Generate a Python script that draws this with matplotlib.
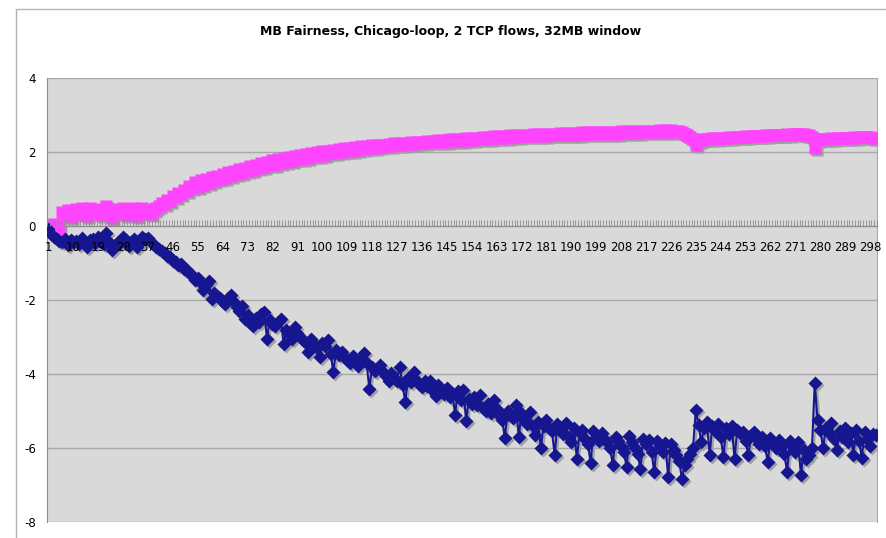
import numpy as np
import matplotlib.pyplot as plt
from matplotlib.patches import Rectangle
from matplotlib.transforms import offset_copy

title = 'MB Fairness, Chicago-loop, 2 TCP flows, 32MB window'

# flow 1 (magenta squares), one value per sample
flow_a = [
    0.02, 0.03, 0.05, 0.00, -0.08, 0.38, 0.30, 0.42, 0.25, 0.40,
    0.45, 0.32, 0.48, 0.40, 0.28, 0.50, 0.42, 0.36, 0.45, 0.30,
    0.38, 0.55, 0.40, 0.22, 0.35, 0.45, 0.38, 0.48, 0.30, 0.36,
    0.45, 0.50, 0.28, 0.35, 0.48, 0.40, 0.46, 0.32, 0.42, 0.50,
    0.55, 0.62, 0.60, 0.70, 0.68, 0.80, 0.78, 0.88, 0.86, 0.98,
    0.95, 1.08, 1.02, 1.18, 1.06, 1.25, 1.12, 1.28, 1.16, 1.32,
    1.22, 1.36, 1.26, 1.40, 1.30, 1.46, 1.34, 1.50, 1.40, 1.55,
    1.44, 1.58, 1.48, 1.62, 1.52, 1.66, 1.56, 1.70, 1.60, 1.74,
    1.64, 1.78, 1.66, 1.80, 1.70, 1.84, 1.72, 1.86, 1.76, 1.90,
    1.80, 1.92, 1.82, 1.95, 1.85, 1.97, 1.88, 2.00, 1.90, 2.02,
    1.93, 2.04, 1.96, 2.06, 1.98, 2.08, 2.00, 2.10, 2.02, 2.12,
    2.04, 2.13, 2.06, 2.15, 2.08, 2.16, 2.10, 2.18, 2.12, 2.19,
    2.14, 2.20, 2.15, 2.22, 2.17, 2.23, 2.18, 2.24, 2.20, 2.25,
    2.21, 2.26, 2.22, 2.27, 2.24, 2.28, 2.25, 2.29, 2.26, 2.30,
    2.26, 2.32, 2.27, 2.33, 2.28, 2.34, 2.29, 2.35, 2.30, 2.36,
    2.31, 2.37, 2.32, 2.38, 2.33, 2.39, 2.34, 2.40, 2.35, 2.41,
    2.36, 2.42, 2.37, 2.43, 2.38, 2.44, 2.39, 2.45, 2.40, 2.46,
    2.41, 2.46, 2.42, 2.47, 2.42, 2.48, 2.43, 2.48, 2.44, 2.49,
    2.44, 2.50, 2.45, 2.50, 2.45, 2.51, 2.46, 2.51, 2.46, 2.52,
    2.47, 2.52, 2.47, 2.53, 2.48, 2.53, 2.48, 2.54, 2.49, 2.54,
    2.49, 2.55, 2.49, 2.55, 2.50, 2.55, 2.50, 2.56, 2.51, 2.56,
    2.51, 2.56, 2.52, 2.57, 2.52, 2.57, 2.53, 2.58, 2.53, 2.58,
    2.54, 2.59, 2.54, 2.59, 2.55, 2.60, 2.55, 2.58, 2.56, 2.54,
    2.50, 2.46, 2.40, 2.34, 2.20, 2.30, 2.32, 2.34, 2.36, 2.35,
    2.37, 2.38, 2.36, 2.38, 2.39, 2.38, 2.40, 2.39, 2.40, 2.41,
    2.40, 2.41, 2.42, 2.41, 2.42, 2.43, 2.42, 2.44, 2.43, 2.45,
    2.44, 2.45, 2.46, 2.45, 2.46, 2.47, 2.46, 2.48, 2.47, 2.48,
    2.49, 2.48, 2.49, 2.48, 2.47, 2.46, 2.40, 2.10, 2.32, 2.34,
    2.35, 2.34, 2.36, 2.37, 2.36, 2.38, 2.37, 2.38, 2.39, 2.38,
    2.39, 2.40, 2.39, 2.40, 2.41, 2.40, 2.41, 2.40, 2.39, 2.38,
]

# flow 2 (navy diamonds)
flow_b = [
    -0.08, -0.22, -0.30, -0.36, -0.40, -0.42, -0.35, -0.52, -0.38, -0.44,
    -0.40, -0.48, -0.32, -0.42, -0.56, -0.38, -0.35, -0.46, -0.30, -0.42,
    -0.48, -0.20, -0.42, -0.66, -0.52, -0.42, -0.46, -0.30, -0.38, -0.54,
    -0.42, -0.35, -0.56, -0.44, -0.30, -0.36, -0.32, -0.44, -0.52, -0.58,
    -0.62, -0.68, -0.74, -0.80, -0.84, -0.95, -0.98, -1.05, -1.02, -1.15,
    -1.20, -1.26, -1.32, -1.45, -1.40, -1.55, -1.72, -1.60, -1.48, -1.98,
    -1.80, -1.88, -1.95, -2.05, -2.12, -1.95, -1.86, -2.05, -2.18, -2.30,
    -2.15, -2.50, -2.40, -2.62, -2.70, -2.48, -2.60, -2.38, -2.32, -3.05,
    -2.55, -2.65, -2.70, -2.60, -2.52, -3.18, -2.82, -2.92, -3.05, -2.72,
    -2.90, -3.00, -3.08, -3.15, -3.40, -3.05, -3.20, -3.30, -3.55, -3.15,
    -3.25, -3.08, -3.45, -3.95, -3.35, -3.48, -3.40, -3.55, -3.62, -3.70,
    -3.52, -3.65, -3.78, -3.60, -3.43, -3.70, -4.40, -3.80, -3.92, -3.85,
    -3.76, -3.95, -4.05, -4.18, -3.98, -4.10, -4.20, -3.80, -4.30, -4.75,
    -4.10, -4.22, -3.95, -4.15, -4.28, -4.35, -4.20, -4.32, -4.20, -4.45,
    -4.60, -4.30, -4.48, -4.55, -4.38, -4.62, -4.52, -5.10, -4.45, -4.70,
    -4.42, -5.28, -4.68, -4.80, -4.62, -4.85, -4.57, -4.92, -5.00, -4.80,
    -5.05, -4.70, -4.95, -5.10, -5.25, -5.72, -5.00, -5.12, -5.20, -4.84,
    -5.70, -5.05, -5.25, -5.35, -5.03, -5.40, -5.65, -5.30, -6.00, -5.40,
    -5.25, -5.45, -5.55, -6.18, -5.35, -5.50, -5.62, -5.32, -5.70, -5.85,
    -5.45, -6.30, -5.60, -5.52, -5.75, -5.90, -6.40, -5.55, -5.70, -5.82,
    -5.60, -5.75, -5.85, -6.00, -6.45, -5.70, -5.80, -5.95, -6.10, -6.52,
    -5.68, -5.85, -6.00, -6.15, -6.58, -5.75, -5.90, -5.78, -6.10, -6.66,
    -5.82, -5.95, -6.10, -5.86, -6.78, -5.90, -6.05, -6.20, -6.35, -6.84,
    -6.45, -6.30, -6.15, -6.00, -4.98, -5.38, -5.85, -5.45, -5.30, -6.18,
    -5.40, -5.55, -5.35, -5.70, -6.25, -5.45, -5.62, -5.40, -6.30, -5.50,
    -5.60, -5.57, -5.80, -6.20, -5.65, -5.58, -5.75, -5.90, -5.70, -5.95,
    -6.38, -5.72, -5.85, -6.00, -5.78, -5.95, -6.15, -6.65, -5.80, -5.98,
    -6.10, -5.85, -6.72, -6.05, -6.30, -6.19, -6.00, -4.24, -5.24, -5.50,
    -6.00, -5.45, -5.60, -5.32, -5.75, -6.05, -5.55, -5.70, -5.46, -5.85,
    -5.60, -6.19, -5.50, -5.80, -6.27, -5.57, -5.75, -5.95, -5.62, -5.65,
]

samples = np.arange(1, len(flow_a) + 1)
tick_pos = samples[::9]
y_ticks = [-8, -6, -4, -2, 0, 2, 4]

fig = plt.figure(figsize=(8.87, 5.38), dpi=100)
fig.patch.set_facecolor('white')
ax = fig.add_axes([47 / 887, 16 / 538, 830 / 887, 444 / 538])
ax.set_facecolor('#d9d9d9')

# gray drop shadows under the markers
shadow = offset_copy(ax.transData, fig=fig, x=2, y=-2, units='dots')
ax.plot(samples, flow_a, color='#a0a0a0', lw=1.5, marker='s', ms=8.5,
        mec='none', transform=shadow, zorder=2)
ax.plot(samples, flow_b, color='#a0a0a0', lw=1.5, marker='D', ms=7,
        mec='none', transform=shadow, zorder=2)

ax.plot(samples, flow_a, color='#ff44ff', lw=1.5, marker='s', ms=8.5,
        mec='none', zorder=3)
ax.plot(samples, flow_b, color='#161690', lw=1.5, marker='D', ms=7,
        mec='none', zorder=4)

ax.set_xlim(0.5, len(samples) + 0.5)
ax.set_ylim(-8, 4)
ax.set_yticks(y_ticks)
ax.set_yticklabels([str(v) for v in y_ticks])
ax.yaxis.grid(True, color='#a8a8a8', lw=1)
ax.set_axisbelow(True)
# sample numbers sit on top of the series
ax.xaxis.set_zorder(5)

# category axis crosses at zero
ax.spines['bottom'].set_position(('data', 0))
ax.spines['bottom'].set_color('#8c8c8c')
ax.spines['left'].set_color('#8c8c8c')
ax.spines['top'].set_visible(False)
ax.spines['right'].set_color('#a8a8a8')
ax.set_xticks(tick_pos)
ax.set_xticklabels([str(v) for v in tick_pos])
ax.set_xticks(np.arange(0.5, len(samples) + 1, 1), minor=True)
ax.tick_params(axis='x', which='major', length=0, pad=11, labelsize=8.5)
ax.tick_params(axis='x', which='minor', length=4, direction='in',
               color='#8c8c8c', width=0.6)
ax.tick_params(axis='y', length=0, pad=8, labelsize=8.5)

fig.text(0.508, 1 - 32 / 538, title, ha='center', va='center',
         fontsize=9, fontweight='bold')

# outer chart frame
fig.add_artist(Rectangle((16 / 887, -0.1), 1.0, 1.1 - 9 / 538,
                         transform=fig.transFigure, fill=False,
                         ec='#b4b4b4', lw=1))

fig.savefig('out.png', dpi=100)
